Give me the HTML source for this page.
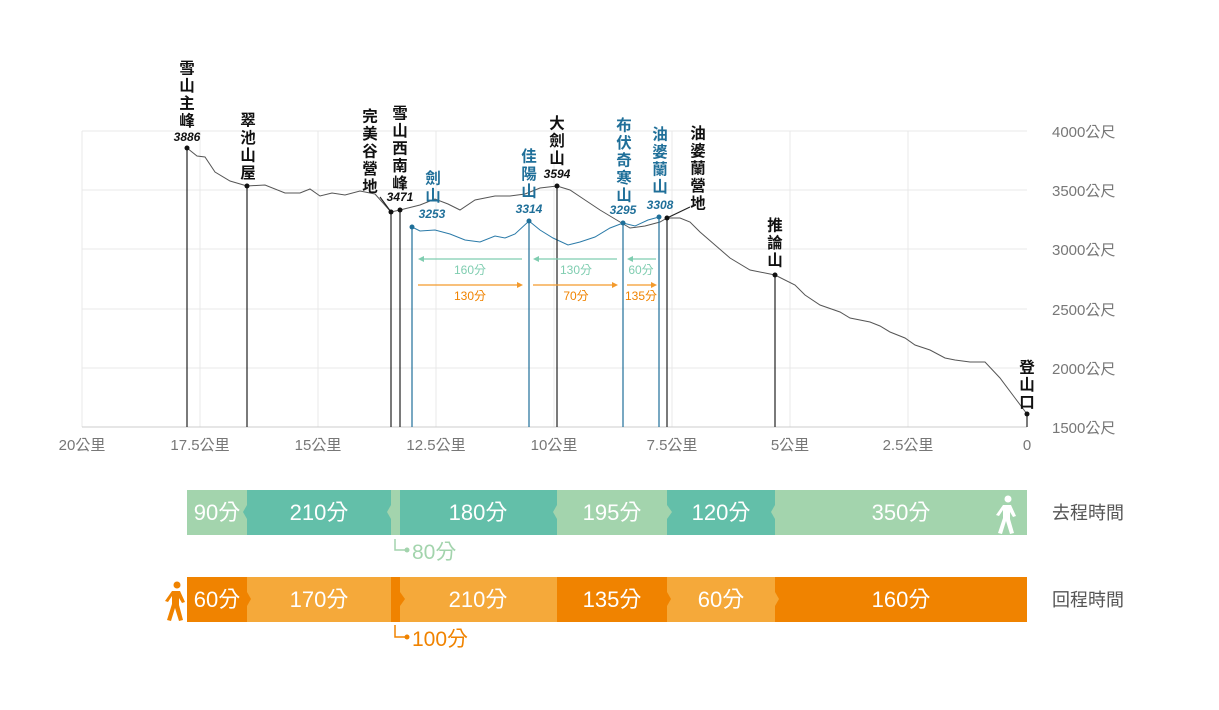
<!DOCTYPE html>
<html><head><meta charset="utf-8"><style>
body{margin:0;background:#fff;width:1219px;height:710px;overflow:hidden;position:relative;font-family:"Liberation Sans","Noto Sans CJK TC",sans-serif}
.v{position:absolute;writing-mode:vertical-rl;font-size:15.5px;font-weight:bold;letter-spacing:2px;line-height:20px;font-family:"Noto Sans CJK TC",sans-serif;transform:translateX(-50%);color:#111}
.b{color:#1f6f99}
</style></head><body>
<svg width="1219" height="710" style="position:absolute;left:0;top:0" font-family="Liberation Sans, Noto Sans CJK TC, sans-serif">
<g stroke="#e8e8e8" stroke-width="1">
<line x1="82" y1="131" x2="1027" y2="131"/><line x1="82" y1="190" x2="1027" y2="190"/><line x1="82" y1="249" x2="1027" y2="249"/><line x1="82" y1="309" x2="1027" y2="309"/><line x1="82" y1="368" x2="1027" y2="368"/>
<line x1="82" y1="131" x2="82" y2="427"/><line x1="200" y1="131" x2="200" y2="427"/><line x1="318" y1="131" x2="318" y2="427"/><line x1="436" y1="131" x2="436" y2="427"/><line x1="554" y1="131" x2="554" y2="427"/><line x1="672" y1="131" x2="672" y2="427"/><line x1="790" y1="131" x2="790" y2="427"/><line x1="908" y1="131" x2="908" y2="427"/>
</g>
<line x1="82" y1="427" x2="1027" y2="427" stroke="#ccc"/>
<g font-size="15" fill="#777" text-anchor="middle">
<text x="82" y="450">20公里</text><text x="200" y="450">17.5公里</text><text x="318" y="450">15公里</text><text x="436" y="450">12.5公里</text><text x="554" y="450">10公里</text><text x="672" y="450">7.5公里</text><text x="790" y="450">5公里</text><text x="908" y="450">2.5公里</text><text x="1027" y="450">0</text>
</g>
<g font-size="15" fill="#777">
<text x="1052" y="137">4000公尺</text><text x="1052" y="196">3500公尺</text><text x="1052" y="255">3000公尺</text><text x="1052" y="315">2500公尺</text><text x="1052" y="374">2000公尺</text><text x="1052" y="433">1500公尺</text>
</g>
<polyline fill="none" stroke="#555" stroke-width="1" points="187,148 197,156 205,157 215,172 230,181 247,186 265,185 285,193 300,193 310,189 320,196 332,193 345,195 360,191 375,194 391,212 400,210 420,205 435,199 448,204 460,210 475,200 495,196 510,196 525,194 540,188 557,186 570,190 585,200 600,210 620,222 630,228 645,226 660,222 667,218 680,218 690,222 700,232 715,245 730,258 750,270 775,275 795,285 805,295 820,305 840,312 850,318 870,322 880,326 890,332 905,338 915,345 930,350 945,358 955,360 970,362 985,362 1000,378 1015,398 1027,414"/>
<polyline fill="none" stroke="#2a7aa8" stroke-width="1" points="412,227 420,231 435,230 450,234 465,240 480,242 495,236 505,238 515,234 529,221 540,230 553,238 568,245 580,242 595,237 610,228 623,223 635,226 648,220 659,217"/>
<g stroke="#222" stroke-width="1.2">
<line x1="187" y1="148" x2="187" y2="427"/><line x1="247" y1="186" x2="247" y2="427"/><line x1="391" y1="212" x2="391" y2="427"/><line x1="400" y1="210" x2="400" y2="427"/><line x1="557" y1="186" x2="557" y2="427"/><line x1="667" y1="218" x2="667" y2="427"/><line x1="775" y1="275" x2="775" y2="427"/><line x1="1027" y1="414" x2="1027" y2="427"/>
<line x1="380" y1="197" x2="391" y2="212"/><line x1="667" y1="218" x2="690" y2="207"/>
</g>
<g fill="#111"><circle cx="187" cy="148" r="2.5"/><circle cx="247" cy="186" r="2.5"/><circle cx="391" cy="212" r="2.5"/><circle cx="400" cy="210" r="2.5"/><circle cx="557" cy="186" r="2.5"/><circle cx="667" cy="218" r="2.5"/><circle cx="775" cy="275" r="2.5"/><circle cx="1027" cy="414" r="2.5"/></g>
<g stroke="#1f6f99" stroke-width="1.2"><line x1="412" y1="227" x2="412" y2="427"/><line x1="529" y1="221" x2="529" y2="427"/><line x1="623" y1="223" x2="623" y2="427"/><line x1="659" y1="217" x2="659" y2="427"/></g>
<g fill="#1f6f99"><circle cx="412" cy="227" r="2.5"/><circle cx="529" cy="221" r="2.5"/><circle cx="623" cy="223" r="2.5"/><circle cx="659" cy="217" r="2.5"/></g>
<g font-size="12" font-weight="bold" font-style="italic" text-anchor="middle">
<text x="187" y="141" fill="#111">3886</text><text x="400" y="201" fill="#111">3471</text><text x="557" y="178" fill="#111">3594</text>
<text x="432" y="218" fill="#1f6f99">3253</text><text x="529" y="213" fill="#1f6f99">3314</text><text x="623" y="214" fill="#1f6f99">3295</text><text x="660" y="209" fill="#1f6f99">3308</text>
</g>
<g stroke="#7fcdb0" fill="#7fcdb0" stroke-width="1.2">
<line x1="420" y1="259" x2="522" y2="259"/><polygon points="418,259 424,256 424,262" stroke="none"/>
<line x1="535" y1="259" x2="617" y2="259"/><polygon points="533,259 539,256 539,262" stroke="none"/>
<line x1="629" y1="259" x2="656" y2="259"/><polygon points="627,259 633,256 633,262" stroke="none"/>
</g>
<g stroke="#f39a2c" fill="#f39a2c" stroke-width="1.2">
<line x1="418" y1="285" x2="520" y2="285"/><polygon points="523,285 517,282 517,288" stroke="none"/>
<line x1="533" y1="285" x2="615" y2="285"/><polygon points="618,285 612,282 612,288" stroke="none"/>
<line x1="627" y1="285" x2="654" y2="285"/><polygon points="657,285 651,282 651,288" stroke="none"/>
</g>
<g font-size="12" text-anchor="middle">
<text x="470" y="274" fill="#7fcdb0">160分</text><text x="576" y="274" fill="#7fcdb0">130分</text><text x="641" y="274" fill="#7fcdb0">60分</text>
<text x="470" y="300" fill="#f08300">130分</text><text x="576" y="300" fill="#f08300">70分</text><text x="641" y="300" fill="#f08300">135分</text>
</g>
<g>
<rect x="187" y="490" width="60" height="45" fill="#a3d4ad"/>
<rect x="247" y="490" width="144" height="45" fill="#63bfa9"/>
<rect x="391" y="490" width="9" height="45" fill="#a3d4ad"/>
<rect x="400" y="490" width="157" height="45" fill="#63bfa9"/>
<rect x="557" y="490" width="110" height="45" fill="#a3d4ad"/>
<rect x="667" y="490" width="108" height="45" fill="#63bfa9"/>
<rect x="775" y="490" width="252" height="45" fill="#a3d4ad"/>
<polygon points="247,505 243,512 247,519" fill="#63bfa9"/>
<polygon points="391,505 387,512 391,519" fill="#a3d4ad"/>
<polygon points="557,505 553,512 557,519" fill="#a3d4ad"/>
<polygon points="667,505 672,512 667,519" fill="#a3d4ad"/>
<polygon points="775,505 771,512 775,519" fill="#a3d4ad"/>
</g>
<g font-size="22" fill="#fff" text-anchor="middle">
<text x="217" y="520">90分</text><text x="319" y="520">210分</text><text x="478" y="520">180分</text><text x="612" y="520">195分</text><text x="721" y="520">120分</text><text x="901" y="520">350分</text>
</g>
<g fill="#fff"><circle cx="1008" cy="499" r="3.5"/><path d="M1003,505 L1011,505 L1016,516 L1013,517 L1010,512 L1010,519 L1014,533 L1010,534 L1006,521 L1002,534 L998,533 L1003,518 L1003,510 L999,516 L996,515 Z"/></g>
<g>
<rect x="187" y="577" width="60" height="45" fill="#f08300"/>
<rect x="247" y="577" width="144" height="45" fill="#f5a93a"/>
<rect x="391" y="577" width="9" height="45" fill="#f08300"/>
<rect x="400" y="577" width="157" height="45" fill="#f5a93a"/>
<rect x="557" y="577" width="110" height="45" fill="#f08300"/>
<rect x="667" y="577" width="108" height="45" fill="#f5a93a"/>
<rect x="775" y="577" width="252" height="45" fill="#f08300"/>
<polygon points="247,592 251,599 247,606" fill="#f08300"/>
<polygon points="400,592 405,599 400,606" fill="#f08300"/>
<polygon points="667,592 671,599 667,606" fill="#f08300"/>
<polygon points="775,592 779,599 775,606" fill="#f5a93a"/>
</g>
<g font-size="22" fill="#fff" text-anchor="middle">
<text x="217" y="607">60分</text><text x="319" y="607">170分</text><text x="478" y="607">210分</text><text x="612" y="607">135分</text><text x="721" y="607">60分</text><text x="901" y="607">160分</text>
</g>
<g fill="#f08300"><circle cx="177" cy="585" r="3.5"/><path d="M172,591 L180,591 L185,602 L182,603 L179,598 L179,605 L183,620 L179,621 L175,608 L171,621 L167,620 L172,604 L172,596 L168,602 L165,601 Z"/></g>
<g font-size="18" fill="#555"><text x="1052" y="519">去程時間</text><text x="1052" y="606">回程時間</text></g>
<path d="M395,539 V550 H406" fill="none" stroke="#a3d4ad" stroke-width="1.5"/><circle cx="407" cy="550" r="2.5" fill="#a3d4ad"/>
<text x="412" y="559" font-size="21" fill="#a3d4ad">80分</text>
<path d="M395,625 V637 H406" fill="none" stroke="#f08300" stroke-width="1.5"/><circle cx="407" cy="637" r="2.5" fill="#f08300"/>
<text x="412" y="646" font-size="21" fill="#f08300">100分</text>
</svg>
<div class="v" style="left:187px;top:60px">雪山主峰</div>
<div class="v" style="left:248px;top:112px">翠池山屋</div>
<div class="v" style="left:370px;top:108px">完美谷營地</div>
<div class="v" style="left:400px;top:105px">雪山西南峰</div>
<div class="v b" style="left:433px;top:170px">劍山</div>
<div class="v b" style="left:529px;top:148px">佳陽山</div>
<div class="v" style="left:557px;top:115px">大劍山</div>
<div class="v b" style="left:624px;top:117px">布伏奇寒山</div>
<div class="v b" style="left:660px;top:126px">油婆蘭山</div>
<div class="v" style="left:698px;top:125px">油婆蘭營地</div>
<div class="v" style="left:775px;top:217px">推論山</div>
<div class="v" style="left:1027px;top:359px">登山口</div>
</body></html>
